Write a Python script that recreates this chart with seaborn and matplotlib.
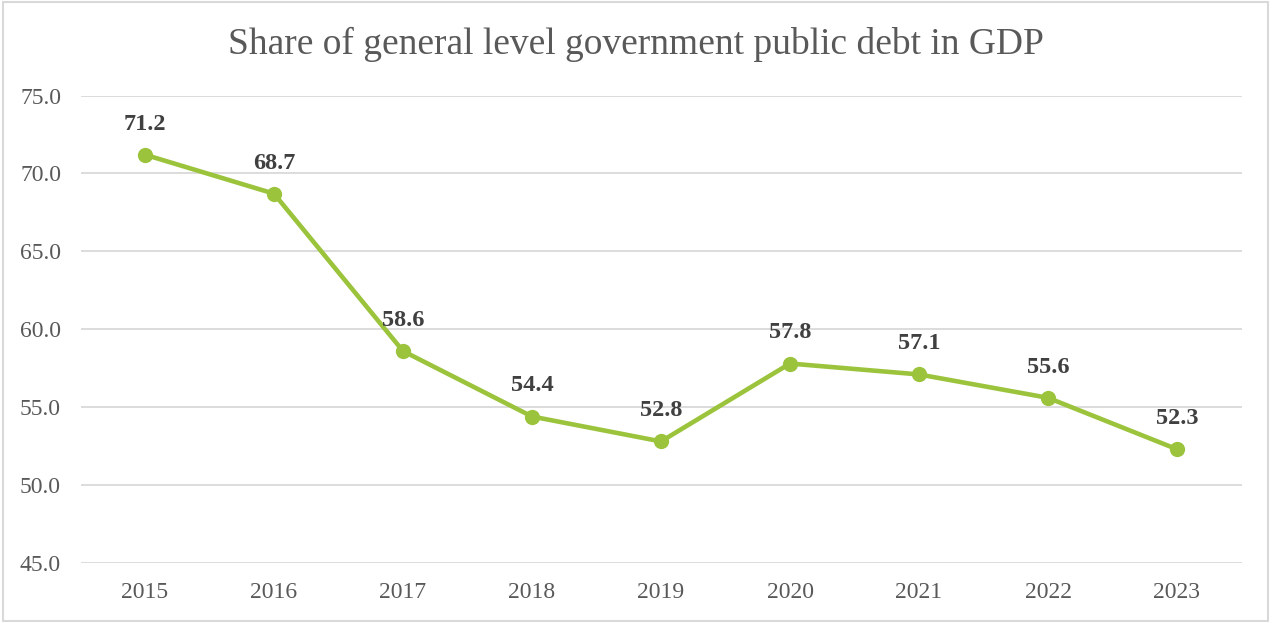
import matplotlib
matplotlib.use("Agg")
import matplotlib.pyplot as plt
import seaborn as sns
import pandas as pd
from matplotlib.patches import Rectangle

years = ["2015", "2016", "2017", "2018", "2019", "2020", "2021", "2022", "2023"]
debt_share = [71.2, 68.7, 58.6, 54.4, 52.8, 57.8, 57.1, 55.6, 52.3]
y_ticks = [45.0, 50.0, 55.0, 60.0, 65.0, 70.0, 75.0]
title = "Share of general level government public debt in GDP"

df = pd.DataFrame({"year": years, "share": debt_share})

sns.set_theme(style="white")
plt.rcParams["font.family"] = ["Liberation Serif", "DejaVu Serif"]

fig = plt.figure(figsize=(12.72, 6.23), dpi=100)
ax = fig.add_axes([80.5 / 1272, 1 - 563 / 623, (1241.5 - 80.5) / 1272, (563 - 95.5) / 623])

green = "#9BC43C"
sns.lineplot(data=df, x="year", y="share", ax=ax, color=green, linewidth=3.3,
             marker="o", markersize=11, markeredgewidth=0, sort=False)

ax.set_xlim(-0.5, len(years) - 0.5)
ax.set_ylim(45, 75)
ax.set_yticks(y_ticks)
ax.set_yticklabels([f"{v:.1f}" for v in y_ticks])
ax.grid(axis="y", color="#D9D9D9", linewidth=1.3)
ax.set_axisbelow(True)
for s in ax.spines.values():
    s.set_visible(False)
ax.tick_params(axis="both", length=0, labelsize=17, labelcolor="#595959")
ax.tick_params(axis="y", pad=14)
ax.tick_params(axis="x", pad=14)
ax.set_xlabel("")
ax.set_ylabel("")

for i, v in enumerate(debt_share):
    ax.annotate(f"{v:.1f}", (i, v), xytext=(0, 22), textcoords="offset points",
                ha="center", va="center", fontsize=17.5, fontweight="bold", color="#404040")

fig.text(0.5, 1 - 44 / 623, title, ha="center", va="center", fontsize=27, color="#595959")

fig.patches.append(Rectangle((0.002, 0.004), 0.995, 0.993, transform=fig.transFigure,
                             fill=False, edgecolor="#D9D9D9", linewidth=1.5))

fig.savefig("out.png", dpi=100)
